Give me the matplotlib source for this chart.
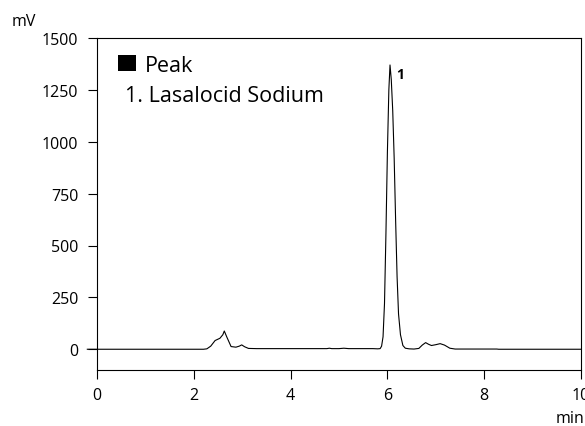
import matplotlib
matplotlib.use("Agg")
import matplotlib.pyplot as plt
from matplotlib.patches import Rectangle

# chromatogram trace (time in min, signal in mV)
time_min = [-0.2, 1.0, 2.2, 2.27, 2.35, 2.44, 2.54, 2.60, 2.63, 2.68, 2.77, 2.87,
            2.94, 2.99, 3.05, 3.13, 3.3, 4.0, 4.75, 4.8, 4.85, 5.0, 5.1, 5.2,
            5.7, 5.80, 5.85, 5.88, 5.91, 5.94, 5.97, 6.00, 6.03, 6.054,
            6.08, 6.11, 6.14, 6.17, 6.20, 6.23, 6.27, 6.32, 6.37, 6.45,
            6.55, 6.65, 6.72, 6.79, 6.85, 6.91, 7.0, 7.09, 7.18, 7.29, 7.4,
            8.26, 8.3, 10.0]
signal_mv = [0, 0, 0, 2, 15, 42, 53, 70, 88, 60, 13, 10,
             15, 21, 12, 4, 3, 3, 3, 5, 3, 3, 5, 3,
             3, 2, 3, 15, 60, 220, 560, 950, 1250, 1370,
             1300, 1150, 920, 620, 350, 170, 70, 18, 5, 2,
             1, 4, 20, 32, 24, 18, 22, 27, 20, 5, 1,
             1, 0, 0]

x_ticks = [0, 2, 4, 6, 8, 10]
y_ticks = [0, 250, 500, 750, 1000, 1250, 1500]
peak_names = ["1. Lasalocid Sodium"]
peak_labels = ["1"]

plt.rcParams['font.family'] = ['Open Sans', 'DejaVu Sans']

fig = plt.figure(figsize=(5.85, 4.27), dpi=100)
ax = fig.add_axes([97/585, 56/427, 484/585, 332/427])

ax.plot(time_min, signal_mv, color='black', linewidth=0.8, clip_on=False)

ax.set_xlim(0, 10)
ax.set_ylim(-100, 1500)
ax.set_xticks(x_ticks)
ax.set_yticks(y_ticks)
ax.tick_params(axis='both', direction='out', length=6.5, width=0.8,
               labelsize=11.5, colors='black')
ax.tick_params(axis='x', pad=6)
ax.tick_params(axis='y', pad=7)
for s in ax.spines.values():
    s.set_linewidth(0.8)

# label over the main peak
imax = signal_mv.index(max(signal_mv))
ax.text(time_min[imax] + 0.13, signal_mv[imax] - 45, peak_labels[0],
        fontsize=10, fontweight='bold', ha='left', va='center')

# units
fig.text(24/585, 1 - 22/427, "mV", fontsize=11.5, ha='center', va='center')
fig.text(570/585, 1 - 419/427, "min", fontsize=11.5, ha='center', va='center')

# legend box
fig.patches.append(Rectangle((118/585, 1 - 72/427), 18/585, 16/427,
                             transform=fig.transFigure, facecolor='black',
                             edgecolor='none'))
fig.text(145/585, 1 - 72/427, "Peak", fontsize=15.5, ha='left', va='baseline')
fig.text(125/585, 1 - 102/427, peak_names[0], fontsize=15.5, ha='left',
         va='baseline')

fig.savefig("out.png", dpi=100)
